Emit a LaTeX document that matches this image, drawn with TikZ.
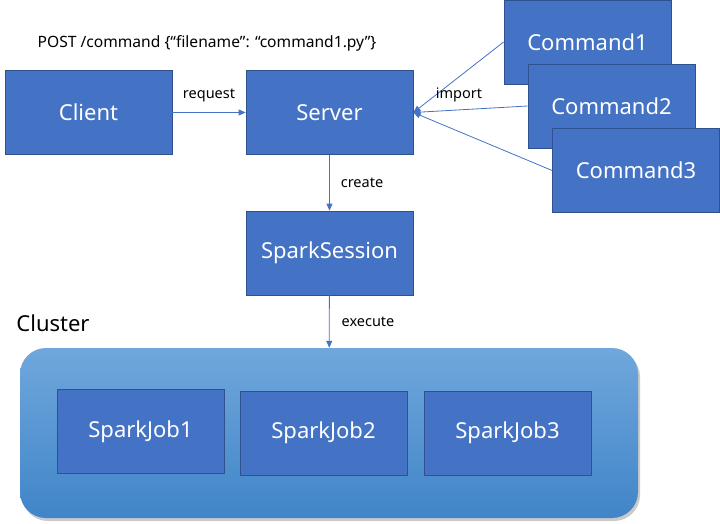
\documentclass[tikz,border=0pt]{standalone}
\usepackage{fontspec}
\setmainfont{Noto Sans}
\usetikzlibrary{arrows.meta,shadows}
\definecolor{boxblue}{RGB}{68,114,196}
\definecolor{boxedge}{RGB}{47,82,143}
\definecolor{clustertop}{RGB}{112,167,220}
\definecolor{clusterbottom}{RGB}{64,133,200}

\tikzset{
  block/.style={rectangle, fill=boxblue, draw=boxedge, line width=0.8pt, minimum width=167pt, minimum height=84pt, inner sep=0pt, text=white, font=\fontsize{22}{26}\selectfont},
  link/.style={draw=boxblue, line width=0.8pt, -{Triangle[length=7pt,width=6pt]}},
  lbl/.style={inner sep=0.75pt, font=\fontsize{14.5}{17}\selectfont},
}

\begin{document}
\begin{tikzpicture}[x=1pt,y=1pt,yscale=-1,xscale=1]
    \useasboundingbox (0,0) rectangle (720,524);

    %Shape: Rounded Rectangle [id:cluster]
    \node [rectangle, rounded corners=26pt, minimum width=618pt, minimum height=170pt, top color=clustertop, bottom color=clusterbottom, draw=none, drop shadow={shadow xshift=2pt, shadow yshift=-3pt, opacity=0.35, fill=black!60}] (cluster) at (329,433) {};

    %Shape: Rectangle [id:blocks]
    \node [block] (client) at (88.5,112.5) {Client};
    \node [block] (server) at (329.5,112.5) {Server};
    \node [block] (cmdA) at (587.5,42) {Command1};
    \node [block] (cmdB) at (611.5,106) {Command2};
    \node [block] (cmdC) at (636,170.5) {Command3};
    \node [block] (session) at (329.5,253) {SparkSession};
    \node [block] (jobA) at (140.5,431.5) {SparkJob1};
    \node [block] (jobB) at (323.5,433) {SparkJob2};
    \node [block] (jobC) at (507.5,433) {SparkJob3};

    %Straight Lines [id:links]
    \draw [link] (client) -- (server);
    \draw [link] (cmdA.west) -- (server.east);
    \draw [link] (cmdB.west) -- (server.east);
    \draw [link] (cmdC.west) -- (server.east);
    \draw [link] (server) -- (session);
    \draw [link] (session) -- (cluster);

    % Text Node
    \node [lbl, font=\fontsize{15.6}{18}\selectfont] (post) at (207,43) {POST /command \{“filename”: “command1.py”\}};
    % Text Node
    \node [lbl] (request) at (209,95) {request};
    % Text Node
    \node [lbl] (import) at (459,95) {import};
    % Text Node
    \node [lbl] (create) at (362,183) {create};
    % Text Node
    \node [lbl] (execute) at (368,322) {execute};
    % Text Node
    \node [lbl, font=\fontsize{22}{26}\selectfont] (clusterlabel) at (53,323) {Cluster};

\end{tikzpicture}
\end{document}
